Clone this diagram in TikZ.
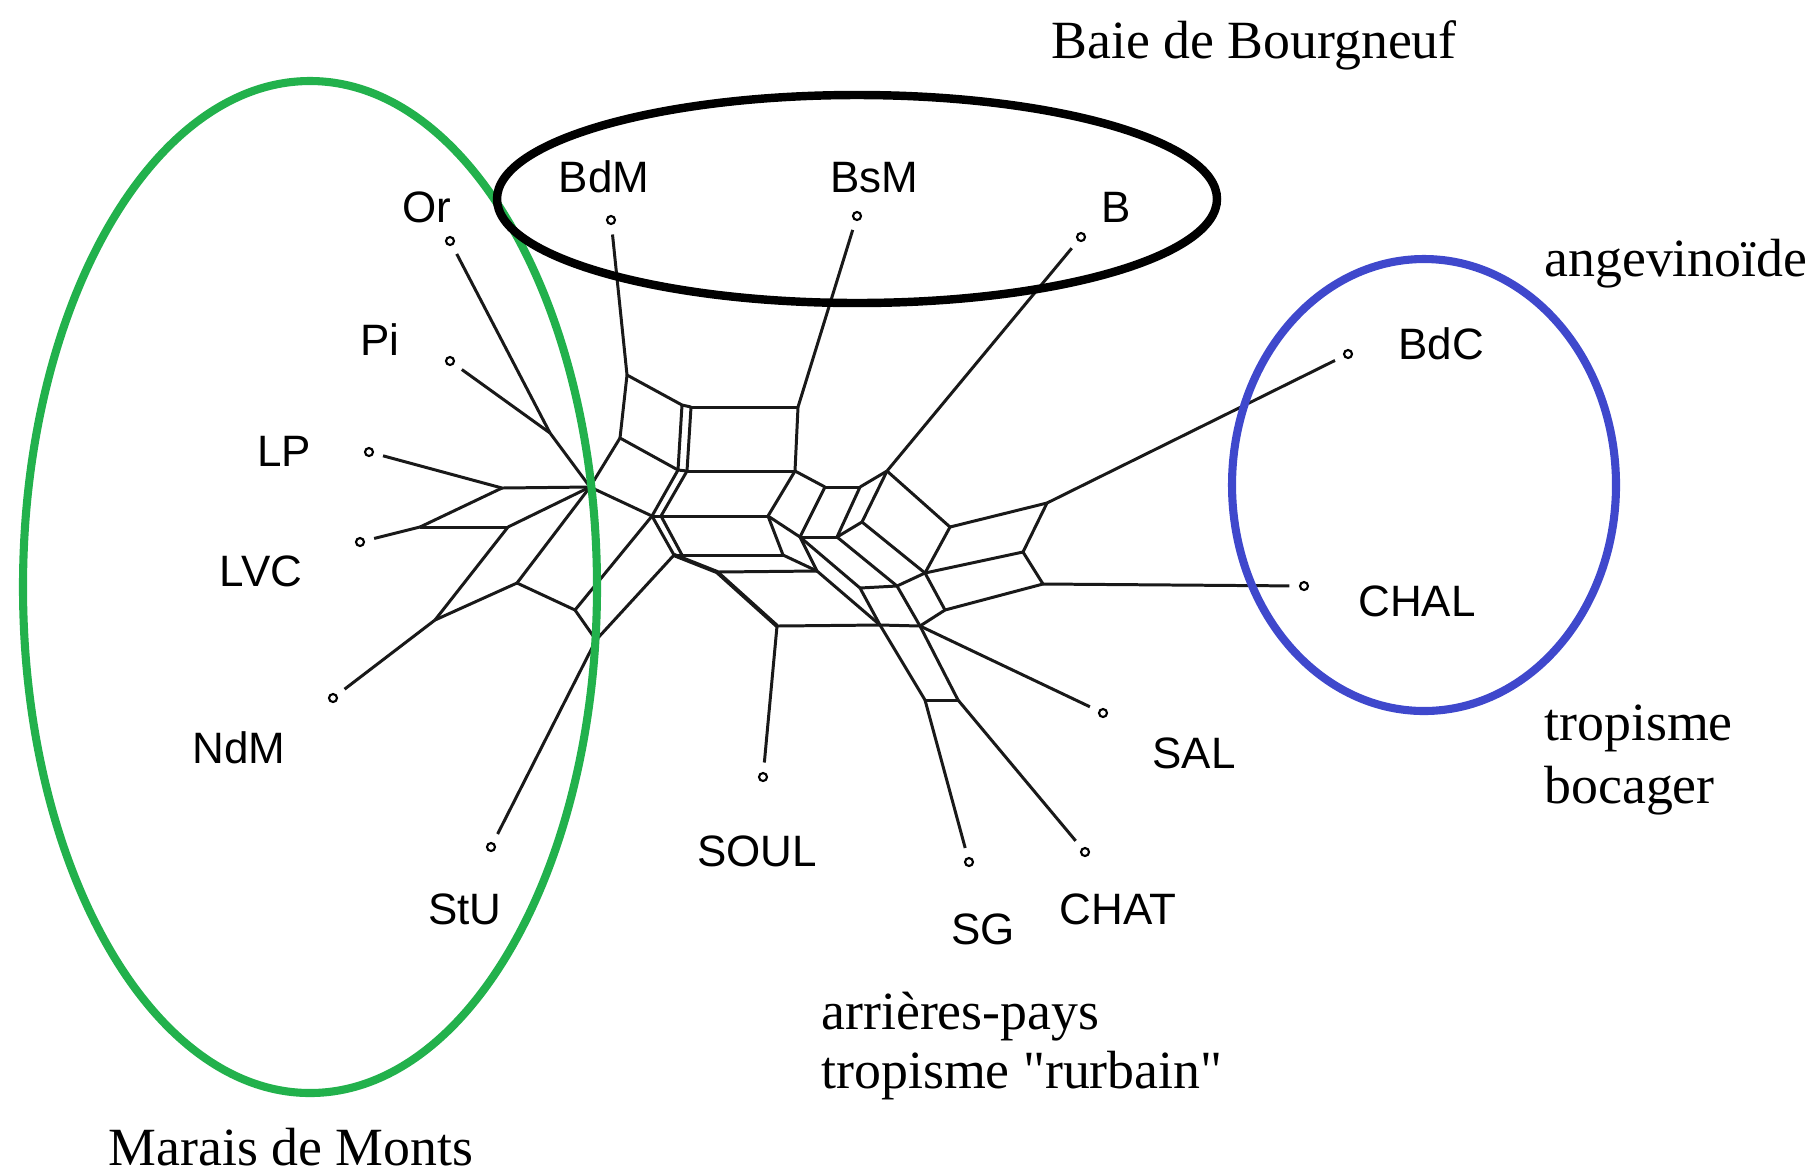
\documentclass[tikz,border=0pt]{standalone}
\usepackage{fontspec}
\setmainfont{Liberation Serif}
\setsansfont{Liberation Sans}
\newfontfamily\notefont{Liberation Serif}
\definecolor{paintgreen}{HTML}{22B14C}
\definecolor{paintblue}{HTML}{3F48CC}

\begin{document}
\begin{tikzpicture}[x=0.01cm,y=-0.01cm,
  net/.style={line width=0.85pt,color=black!90},
  leaf/.style={circle,draw,line width=0.6pt,inner sep=0pt,minimum size=0.08cm,outer sep=3pt},
  lab/.style={font=\sffamily\fontsize{12.5}{15}\selectfont,anchor=base},
  note/.style={font=\notefont\fontsize{15.3}{18}\selectfont,anchor=base west}]
\useasboundingbox (0,0) rectangle (1819,1175);

% vertices of the splits graph
\foreach \n/\x/\y in {H/590/487, O1/550/433, A1/502/488, C1/420/527, B1/508/527,
    D1/435/620, E1/517/583, E2/575/610, G/596/640, J1/627/375, J2/620/438,
    R1/682/405, R1b/691/407, R2/798/407, R3/678/470, R3b/687/471, R4/795/471,
    N1/652/516, N1b/661/516, N2/768/516, M1/674/555, M1b/682/555, M2/783/555,
    S1/717/572, S2/777/626, T1/817/571, U1/800/537, U2/837/537, U3/862/522,
    W1/825/487, W2/860/487, W3/887/471, X1/950/527, X2/925/573, X3/945/610,
    Y1/1047/503, Y2/1023/552, Z1/1043/584, V1/897/586, V2/860/588,
    V3/920/626, V4/880/625, K1/925/700, K2/958/700}
  \coordinate (\n) at (\x,\y);

\foreach \a/\b in {H/A1, A1/C1, C1/B1, B1/H, B1/D1, D1/E1, E1/H, O1/H, H/J2,
    J2/J1, J1/R1, J2/R3, R1/R1b, R1/R3, R1b/R3b, R3/R3b, R1b/R2, R2/R4, R3b/R4,
    H/N1, R3/N1, R3b/N1b, R4/N2, N1/N1b, N1b/N2, E1/E2, E2/N1, E2/G, G/M1,
    N1/M1, N1b/M1b, M1/M1b, M1b/M2, N2/M2, S1/T1, M2/T1, N2/U1, U1/T1,
    R4/W1, W1/W2, W1/U1, W2/U2, U1/U2, W2/W3, W3/U3, U3/U2, W3/X1, U3/X2,
    X1/X2, X1/Y1, X2/Y2, Y1/Y2, Y2/Z1, X2/X3, X3/Z1, X2/V1, U2/V1, U1/V2,
    V2/V1, V1/V3, X3/V3, V2/V4, T1/V4, S2/V4, V4/V3, V4/K1, V3/K2, K1/K2}
  \draw[net] (\a) -- (\b);
\draw[net,line width=1.2pt] (M1) -- (S1) -- (S2);

% leaves
\foreach \n/\x/\y/\a in {Or/450/241/O1, Pi/450/361/O1, LP/369/452/A1,
    LVC/360/542/C1, NdM/333/698/D1, StU/491/847/G, SOUL/763/777/S2,
    SG/969/862/K1, CHAT/1085/852/K2, SAL/1103/713/V3, CHAL/1304/586/Z1,
    BdC/1348/354/Y1, B/1081/237/W3, BsM/857/216/R2, BdM/611/220/J1} {
  \node[leaf] (l\n) at (\x,\y) {};
  \draw[net] (l\n) -- (\a);
}

\foreach \n/\x/\y in {Or/427/206, Pi/380/339, LP/284/450, LVC/261/570,
    NdM/239/747, StU/465/908, SOUL/757/850, SG/983/928, CHAT/1118/908,
    SAL/1194/752, CHAL/1417/600, BdC/1441/343, B/1116/206, BsM/874/176,
    BdM/604/176}
  \node[lab] (t\n) at (\x,\y+16) {\n};

% groups
\draw[paintgreen,line width=2.3pt] (310,587) ellipse [x radius=287, y radius=506];
\draw[line width=2.4pt] (857,199) ellipse [x radius=360, y radius=104];
\draw[paintblue,line width=2.3pt] (1424,485) ellipse [x radius=192, y radius=226];

\node[note,anchor=base] (bay) at (1254,58) {Baie de Bourgneuf};
\node[note] (anj) at (1532,276) {angevinoïde};
\node[note] (boc1) at (1532,740) {tropisme};
\node[note] (boc2) at (1532,803) {bocager};
\node[note] (arr1) at (809,1029) {arrières-pays};
\node[note] (arr2) at (809,1088) {tropisme "rurbain"};
\node[note,anchor=base] (mar) at (291,1165) {Marais de Monts};
\end{tikzpicture}
\end{document}
